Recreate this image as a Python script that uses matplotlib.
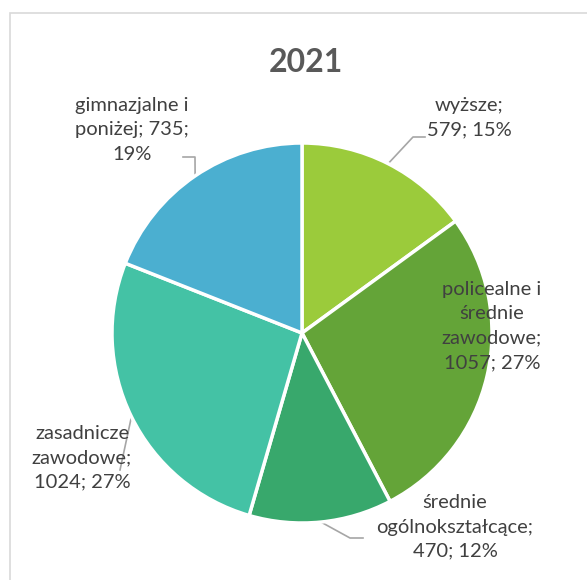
import numpy as np
import matplotlib
matplotlib.use("Agg")
import matplotlib.pyplot as plt
from matplotlib.patches import Rectangle

title = "2021"
categories = ["wyższe", "policealne i\nśrednie\nzawodowe", "średnie\nogólnokształcące",
              "zasadnicze\nzawodowe", "gimnazjalne i\nponiżej"]
values = [579, 1057, 470, 1024, 735]
percents = ["15%", "27%", "12%", "27%", "19%"]
colors = ["#9BCB3B", "#64A438", "#38A86C", "#44C2A5", "#4BAFD0"]

W, H = 587, 580
fig = plt.figure(figsize=(W / 100, H / 100), dpi=100)
fig.patch.set_facecolor("white")

# chart border (extends off canvas at right/bottom)
fig.patches.append(Rectangle((10 / W, -0.1), 1.2, (H - 13) / H + 0.1, transform=fig.transFigure,
                             fill=False, edgecolor="#D9D9D9", linewidth=1.2))

cx, cy, R = 302, 333, 190
ax = fig.add_axes([(cx - R) / W, (H - cy - R) / H, 2 * R / W, 2 * R / H])

wedges, _ = ax.pie(values, colors=colors, startangle=90, counterclock=False, radius=1,
                   wedgeprops=dict(edgecolor="white", linewidth=2.5))
ax.set_xlim(-1, 1)
ax.set_ylim(-1, 1)
ax.axis("off")

def px(x, y):
    return ((x - cx) / R, (cy - y) / R)

font = dict(family=["Lato", "DejaVu Sans"], fontsize=14.5, color="#404040", linespacing=1.52)

fig.text(306 / W, (H - 63) / H, title, ha="center", va="center",
         fontsize=23, fontweight="bold", color="#595959", family=["Lato", "DejaVu Sans"])

labels = [
    f"{categories[0]};\n{values[0]}; {percents[0]}",
    f"{categories[1]};\n{values[1]}; {percents[1]}",
    f"{categories[2]};\n{values[2]}; {percents[2]}",
    f"{categories[3]};\n{values[3]}; {percents[3]}",
    f"gimnazjalne i\nponiżej; {values[4]};\n{percents[4]}",
]

label_pos = [(469, 118), (492, 326), (455, 527), (82, 458), (132, 130)]
elbows = [[(413, 137), (425, 137)], None, [(350, 538), (363, 538)], [(120, 470)],
          [(195, 157), (183, 157)]]

for w, lab, pos, elb in zip(wedges, labels, label_pos, elbows):
    ax.text(*px(*pos), lab, ha="center", va="center", clip_on=False, **font)
    if elb is not None:
        ang = np.deg2rad((w.theta1 + w.theta2) / 2)
        pts = [(np.cos(ang), np.sin(ang))] + [px(*e) for e in elb]
        xs, ys = zip(*pts)
        ax.plot(xs, ys, color="#A6A6A6", linewidth=1.2, clip_on=False, zorder=0.5)

fig.savefig("out.png", dpi=100)
